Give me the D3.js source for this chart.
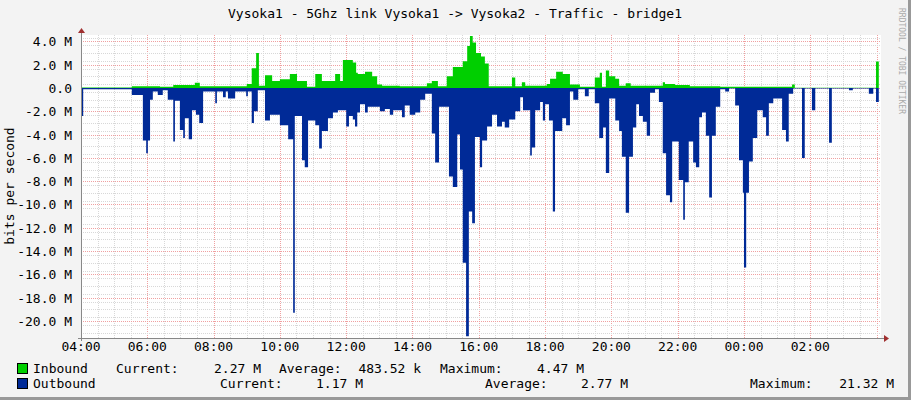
<!DOCTYPE html>
<html>
<head>
<meta charset="utf-8">
<style>
  body { margin: 0; background: #f3f3f3; }
  svg { display: block; font-family: "DejaVu Sans Mono", monospace; font-size: 13px; }
</style>
</head>
<body>
<svg id="chart" width="911" height="400"></svg>
<script src="https://d3js.org/d3.v7.min.js"></script>
<script>
// minutes after 04:00, value in Mbit/s
var inMinutes = [0, 92, 143, 167, 206, 215, 300, 309, 317, 322, 333, 346, 360, 378, 391, 409, 424, 436, 460, 469, 474, 492, 498, 501, 514, 527, 536, 545, 577, 626, 635, 646, 662, 673, 691, 699, 704, 709, 715, 724, 731, 738, 780, 786, 798, 804, 843, 849, 860, 872, 885, 903, 930, 939, 943, 950, 956, 967, 974, 986, 995, 1053, 1057, 1075, 1102, 1157, 1287, 1292, 1439, 1444];
var inValues = [0.05, 0.15, 0.1, 0.25, 0.45, 0.15, 0.35, 1.7, 3.0, 0.2, 1.1, 0.6, 0.75, 1.2, 0.6, 0.1, 1.2, 0.6, 1.2, 0.6, 2.4, 2.2, 1.3, 1.2, 1.4, 1.0, 0.3, 0.2, 0.15, 0.4, 0.6, 0.15, 1.0, 1.8, 2.3, 3.6, 4.47, 3.9, 3.0, 2.7, 2.1, 0.15, 0.9, 0.15, 0.5, 0.2, 0.35, 0.8, 1.4, 1.2, 0.3, 0.1, 0.9, 1.3, 0.1, 1.5, 1.0, 0.8, 0.2, 0.4, 0.2, 0.5, 0.35, 0.25, 0.15, 0.1, 0.3, 0.03, 2.27, 2.27];

var outMinutes = [0, 4, 92, 112, 118, 121, 125, 130, 139, 148, 157, 167, 170, 179, 185, 188, 195, 201, 208, 214, 221, 243, 246, 257, 262, 266, 279, 299, 302, 309, 313, 320, 333, 342, 360, 375, 384, 387, 400, 405, 411, 424, 431, 436, 447, 456, 465, 480, 485, 492, 496, 500, 505, 514, 519, 541, 550, 559, 565, 581, 586, 595, 605, 614, 623, 635, 641, 648, 666, 673, 681, 686, 691, 697, 702, 708, 713, 722, 726, 735, 744, 753, 762, 767, 775, 786, 795, 800, 813, 816, 822, 831, 836, 840, 847, 854, 858, 871, 878, 885, 891, 900, 912, 919, 930, 938, 945, 950, 956, 967, 974, 979, 986, 992, 999, 1005, 1010, 1017, 1024, 1030, 1039, 1046, 1053, 1059, 1066, 1070, 1082, 1090, 1093, 1100, 1108, 1113, 1119, 1124, 1131, 1137, 1142, 1149, 1157, 1166, 1173, 1184, 1191, 1198, 1200, 1204, 1209, 1216, 1224, 1234, 1240, 1245, 1253, 1269, 1276, 1281, 1289, 1305, 1310, 1323, 1329, 1354, 1359, 1390, 1397, 1426, 1434, 1439, 1444];
var outValues = [-2.4, -0.1, -0.6, -4.5, -5.6, -4.5, -1.0, -0.3, -0.6, -0.2, -1.0, -4.6, -1.1, -3.6, -4.3, -2.6, -4.4, -1.9, -2.3, -3.0, -0.3, -1.3, -0.3, -0.8, -0.3, -0.9, -0.3, -0.7, -0.3, -3.0, -2.0, -0.2, -2.8, -2.3, -3.2, -4.4, -19.3, -2.4, -6.2, -6.8, -2.8, -3.2, -5.2, -3.7, -2.6, -2.1, -1.9, -3.3, -2.4, -2.7, -3.3, -2.1, -1.4, -2.1, -1.6, -2.0, -1.8, -2.3, -1.9, -2.5, -1.5, -2.3, -2.1, -1.0, -0.5, -3.9, -6.4, -1.6, -7.6, -8.5, -4.0, -7.0, -15.0, -21.32, -10.6, -11.6, -4.2, -6.8, -4.5, -3.3, -2.3, -3.3, -2.9, -3.4, -2.7, -2.0, -0.8, -1.9, -5.8, -5.1, -1.9, -1.2, -2.8, -1.4, -2.8, -10.6, -3.7, -2.6, -3.2, -0.3, -1.0, -0.1, -0.7, -0.1, -1.3, -4.3, -3.4, -7.3, -0.9, -2.8, -3.7, -5.9, -10.7, -5.9, -3.4, -1.4, -2.4, -2.9, -4.1, -0.4, -0.1, -1.2, -5.6, -9.2, -9.8, -4.6, -7.9, -11.3, -8.1, -4.6, -6.4, -6.8, -2.5, -2.1, -4.1, -9.4, -4.1, -1.6, -0.1, -0.3, -0.05, -1.5, -6.2, -9.0, -15.4, -9.0, -6.3, -4.3, -1.9, -2.5, -4.1, -1.3, -0.9, -3.6, -4.6, -0.5, -0.05, -6.0, -0.05, -1.9, -0.05, -4.7, -0.05, -0.2, -0.05, -0.5, -0.05, -1.2, -1.2];

var yTicks = [4, 2, 0, -2, -4, -6, -8, -10, -12, -14, -16, -18, -20];
var title = "Vysoka1 - 5Ghz link Vysoka1 -> Vysoka2 - Traffic - bridge1";
var legendRows = [
  { name: "Inbound", color: "#00cf00", cur: "2.27 M", avg: "483.52 k", max: "4.47 M" },
  { name: "Outbound", color: "#002a97", cur: "1.17 M", avg: "2.77 M", max: "21.32 M" }
];

var svg = d3.select("#chart");
var plotL = 81, plotR = 881, plotT = 35, plotB = 338;

var t0 = new Date(2020, 0, 1, 4, 0);
var x = d3.scaleTime()
  .domain([t0, d3.timeMinute.offset(t0, 1448)])
  .range([plotL, plotR]);
var y = d3.scaleLinear().domain([-21.46, 4.55]).range([plotB, plotT]);

// frame
svg.append("rect").attr("x", 0).attr("y", 0).attr("width", 911).attr("height", 400).attr("fill", "#f3f3f3");
svg.append("line").attr("x1", 909.5).attr("x2", 909.5).attr("y1", 0).attr("y2", 400).attr("stroke", "#999").attr("stroke-width", 3);
svg.append("line").attr("x1", 0).attr("x2", 911).attr("y1", 398.5).attr("y2", 398.5).attr("stroke", "#999").attr("stroke-width", 3);
svg.append("rect").attr("x", plotL).attr("y", plotT).attr("width", plotR - plotL).attr("height", plotB - plotT).attr("fill", "#fff");

// grid
var g = svg.append("g");
var minorX = d3.timeMinute.every(30).range(t0, d3.timeMinute.offset(t0, 1449));
g.selectAll(".gx").data(minorX).enter().append("line")
  .attr("x1", d => Math.round(x(d)) + 0.5).attr("x2", d => Math.round(x(d)) + 0.5)
  .attr("y1", plotT).attr("y2", plotB)
  .attr("stroke", (d, i) => i % 4 === 0 ? "#f0a0a0" : "#d8d8d8")
  .attr("stroke-dasharray", "1,1");
var minorY = d3.range(-21, 4.6, 2 / 3);
g.selectAll(".gy").data(minorY).enter().append("line")
  .attr("x1", plotL).attr("x2", plotR)
  .attr("y1", d => Math.round(y(d)) + 0.5).attr("y2", d => Math.round(y(d)) + 0.5)
  .attr("stroke", "#d8d8d8").attr("stroke-dasharray", "1,1");
g.selectAll(".my").data(yTicks).enter().append("line")
  .attr("x1", plotL).attr("x2", plotR)
  .attr("y1", d => Math.round(y(d)) + 0.5).attr("y2", d => Math.round(y(d)) + 0.5)
  .attr("stroke", "#f0a0a0").attr("stroke-dasharray", "1,1");

// areas
function series(mins, vals) {
  return mins.map((m, i) => ({ t: d3.timeMinute.offset(t0, m), v: vals[i] }));
}
var area = d3.area().curve(d3.curveStepAfter)
  .x(d => x(d.t)).y0(y(0)).y1(d => y(d.v));
svg.append("path").datum(series(inMinutes, inValues)).attr("d", area).attr("fill", "#00cf00");
svg.append("path").datum(series(outMinutes, outValues)).attr("d", area).attr("fill", "#002a97");

// axes
svg.append("line").attr("x1", plotL - 3).attr("x2", plotR + 3).attr("y1", plotB + 0.5).attr("y2", plotB + 0.5).attr("stroke", "#888");
svg.append("line").attr("x1", plotL + 0.5).attr("x2", plotL + 0.5).attr("y1", plotT - 3).attr("y2", plotB + 3).attr("stroke", "#888");
svg.append("path").attr("d", `M${plotR + 3},${plotB - 3}L${plotR + 8},${plotB + 0.5}L${plotR + 3},${plotB + 4}Z`).attr("fill", "#a03030");
svg.append("path").attr("d", `M${plotL - 3},${plotT - 2}L${plotL + 0.5},${plotT - 7}L${plotL + 4},${plotT - 2}Z`).attr("fill", "#a03030");

var xTicks = d3.timeHour.every(2).range(t0, d3.timeMinute.offset(t0, 1440));
svg.selectAll(".xl").data(xTicks).enter().append("text")
  .attr("x", d => x(d)).attr("y", 351).attr("text-anchor", "middle").attr("fill", "#000")
  .text(d3.timeFormat("%H:%M"));
svg.selectAll(".yl").data(yTicks).enter().append("text")
  .attr("x", 72).attr("y", d => y(d) + 5).attr("text-anchor", "end").attr("fill", "#000")
  .text(d => d === 0 ? "0.0" : d.toFixed(1) + " M");

svg.append("text").attr("x", 455).attr("y", 18).attr("text-anchor", "middle").text(title);
svg.append("text").attr("transform", "translate(14,186) rotate(-90)").attr("text-anchor", "middle").text("bits per second");
svg.append("text").attr("transform", "translate(899,8) rotate(90)").attr("font-size", 8).attr("fill", "#aaa").text("RRDTOOL / TOBI OETIKER");

// legend
var lx = [
  { lab: 116, cur: 261, avgLab: 279, avg: 421, maxLab: 440, max: 584 },
  { lab: 220, cur: 363, avgLab: 485, avg: 628, maxLab: 750, max: 894 }
];
legendRows.forEach(function (r, i) {
  var yy = 373 + i * 15, p = lx[i];
  svg.append("rect").attr("x", 17.5).attr("y", yy - 9.5).attr("width", 10).attr("height", 10).attr("fill", r.color).attr("stroke", "#000");
  svg.append("text").attr("x", 33).attr("y", yy).text(r.name);
  svg.append("text").attr("x", p.lab).attr("y", yy).text("Current:");
  svg.append("text").attr("x", p.cur).attr("y", yy).attr("text-anchor", "end").text(r.cur);
  svg.append("text").attr("x", p.avgLab).attr("y", yy).text("Average:");
  svg.append("text").attr("x", p.avg).attr("y", yy).attr("text-anchor", "end").text(r.avg);
  svg.append("text").attr("x", p.maxLab).attr("y", yy).text("Maximum:");
  svg.append("text").attr("x", p.max).attr("y", yy).attr("text-anchor", "end").text(r.max);
});
</script>
</body>
</html>
